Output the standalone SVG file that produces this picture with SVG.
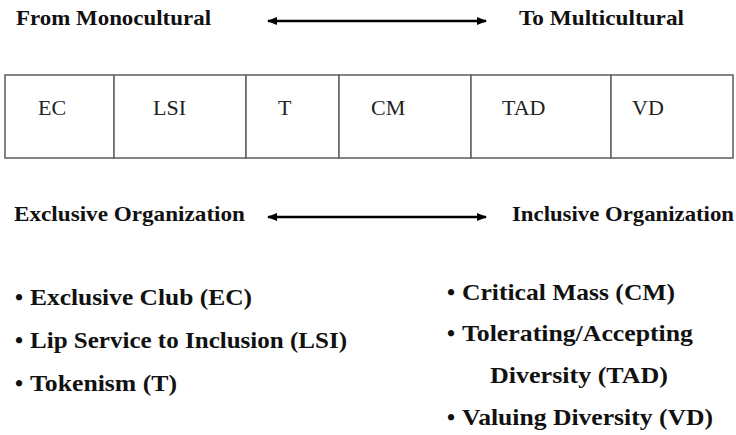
<svg xmlns="http://www.w3.org/2000/svg" width="736" height="435" viewBox="0 0 736 435" font-family="Liberation Serif, Times New Roman, serif">
  <defs>
    <marker id="ah" markerUnits="userSpaceOnUse" markerWidth="10" markerHeight="8" refX="9" refY="4" orient="auto-start-reverse">
      <path d="M0,0 L10,4 L0,8 Z" fill="#000"/>
    </marker>
    <style>
      .hd { font-weight: bold; font-size: 22px; fill: #111; }
      .bl { font-weight: bold; font-size: 23px; fill: #111; }
      .lb { font-size: 22px; fill: #222; }
      .cell { fill: #fff; stroke: #666; stroke-width: 1.6; }
      .arr { stroke: #000; stroke-width: 2.6; fill: none; marker-start: url(#ah); marker-end: url(#ah); }
    </style>
  </defs>
  <rect width="736" height="435" fill="#fff"/>

  <g id="header" font-family="Liberation Serif, serif">
    <text class="hd" x="16" y="25" textLength="195" lengthAdjust="spacingAndGlyphs">From Monocultural</text>
    <text class="hd" x="519" y="25" textLength="165" lengthAdjust="spacingAndGlyphs">To Multicultural</text>
  </g>

  <g id="scale" font-family="Liberation Serif, serif">
    <g id="cell-EC"><rect class="cell" x="5" y="75" width="109" height="83"/><text class="lb" x="38" y="115">EC</text></g>
    <g id="cell-LSI"><rect class="cell" x="114" y="75" width="132" height="83"/><text class="lb" x="153" y="115">LSI</text></g>
    <g id="cell-T"><rect class="cell" x="246" y="75" width="93" height="83"/><text class="lb" x="278" y="115">T</text></g>
    <g id="cell-CM"><rect class="cell" x="339" y="75" width="132" height="83"/><text class="lb" x="371" y="115">CM</text></g>
    <g id="cell-TAD"><rect class="cell" x="471" y="75" width="140" height="83"/><text class="lb" x="502" y="115">TAD</text></g>
    <g id="cell-VD"><rect class="cell" x="611" y="75" width="122" height="83"/><text class="lb" x="632" y="115">VD</text></g>
  </g>

  <g id="org-labels" font-family="Liberation Serif, serif">
    <text class="hd" x="14" y="221" textLength="231" lengthAdjust="spacingAndGlyphs">Exclusive Organization</text>
    <text class="hd" x="512" y="221" textLength="222" lengthAdjust="spacingAndGlyphs">Inclusive Organization</text>
  </g>

  <g id="connectors">
    <line class="arr" x1="268" y1="21" x2="486" y2="21"/>
    <line class="arr" x1="268" y1="217" x2="486" y2="217"/>
  </g>

  <g id="list-exclusive" font-family="Liberation Serif, serif">
    <text class="bl" x="15" y="305">•</text>
    <text class="bl" x="30" y="305" textLength="222" lengthAdjust="spacingAndGlyphs">Exclusive Club (EC)</text>
    <text class="bl" x="15" y="348">•</text>
    <text class="bl" x="30" y="348" textLength="317" lengthAdjust="spacingAndGlyphs">Lip Service to Inclusion (LSI)</text>
    <text class="bl" x="15" y="391">•</text>
    <text class="bl" x="30" y="391" textLength="147" lengthAdjust="spacingAndGlyphs">Tokenism (T)</text>
  </g>

  <g id="list-inclusive" font-family="Liberation Serif, serif">
    <text class="bl" x="447" y="300">•</text>
    <text class="bl" x="462" y="300" textLength="213" lengthAdjust="spacingAndGlyphs">Critical Mass (CM)</text>
    <text class="bl" x="447" y="341">•</text>
    <text class="bl" x="462" y="341" textLength="231" lengthAdjust="spacingAndGlyphs">Tolerating/Accepting</text>
    <text class="bl" x="490" y="383" textLength="178" lengthAdjust="spacingAndGlyphs">Diversity (TAD)</text>
    <text class="bl" x="447" y="425">•</text>
    <text class="bl" x="462" y="425" textLength="251" lengthAdjust="spacingAndGlyphs">Valuing Diversity (VD)</text>
  </g>
</svg>
